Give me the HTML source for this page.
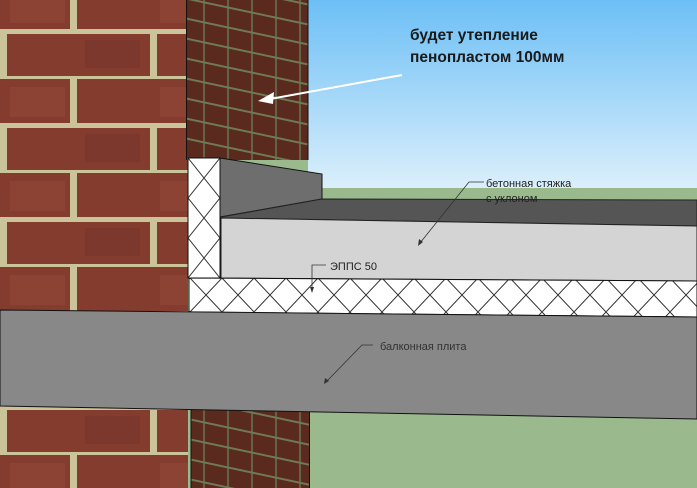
<!DOCTYPE html>
<html><head><meta charset="utf-8"><style>
html,body{margin:0;padding:0;width:697px;height:488px;overflow:hidden}
svg{display:block}
text{font-family:"Liberation Sans",sans-serif}
</style></head><body>
<svg width="697" height="488" viewBox="0 0 697 488" xmlns="http://www.w3.org/2000/svg">
<defs>
<linearGradient id="sky" x1="0" y1="0" x2="0" y2="1">
<stop offset="0" stop-color="#6cbff6"/><stop offset="1" stop-color="#dbeffb"/>
</linearGradient>
<pattern id="brick" width="150" height="94" patternUnits="userSpaceOnUse" y="-15">
<rect width="150" height="94" fill="#843c2e"/>
<rect width="150" height="5" y="44" fill="#cbc49a"/>
<rect width="150" height="5" y="91" fill="#cbc49a"/>
<rect x="70" y="0" width="7" height="46" fill="#cbc49a"/>
<rect x="0" y="47" width="7" height="47" fill="#cbc49a"/>
<rect x="10" y="8" width="55" height="30" fill="#96493a" opacity=".5"/>
<rect x="85" y="55" width="55" height="28" fill="#74332a" opacity=".5"/>
</pattern>
<pattern id="sbrick" width="24" height="20" patternUnits="userSpaceOnUse" patternTransform="skewY(12)">
<rect width="24" height="20" fill="#5a2a1e"/>
<rect width="24" height="2" y="18" fill="#6f7a55"/>
<rect x="11" width="2" height="20" fill="#6f7a55" opacity=".7"/>
</pattern>
<pattern id="xx" width="32" height="34" patternUnits="userSpaceOnUse" x="190" y="278">
<rect width="32" height="34" fill="#fff"/>
<path d="M0 0L32 34M32 0L0 34" stroke="#333" stroke-width="1"/>
</pattern>
<pattern id="xv" width="32" height="40" patternUnits="userSpaceOnUse" x="188" y="158">
<rect width="32" height="40" fill="#fff"/>
<path d="M0 0L32 40M32 0L0 40" stroke="#333" stroke-width="1"/>
</pattern>
</defs>
<rect width="697" height="488" fill="#9aba8e"/>
<rect x="308" y="0" width="389" height="188" fill="url(#sky)"/>
<rect x="0" y="0" width="188" height="488" fill="url(#brick)"/>
<rect x="186" y="0" width="122" height="160" fill="url(#sbrick)"/>
<line x1="186.5" y1="0" x2="186.5" y2="160" stroke="#111"/>
<line x1="308" y1="0" x2="308" y2="160" stroke="#111"/>
<rect x="191" y="410" width="118" height="78" fill="url(#sbrick)"/>
<line x1="191" y1="410" x2="191" y2="488" stroke="#111"/>
<line x1="309.5" y1="410" x2="309.5" y2="488" stroke="#111"/>
<rect x="188" y="158" width="32" height="120" fill="url(#xv)" stroke="#111"/>
<polygon points="220,158 322,174 322,199 220,217" fill="#6e6e6e" stroke="#111"/>
<polygon points="221,217 322,199 697,200 697,226 221,218" fill="#555" stroke="#222"/>
<polygon points="221,218 697,226 697,281 221,278" fill="#d4d4d4" stroke="#222"/>
<polygon points="189,278 697,281 697,317 189,312" fill="url(#xx)" stroke="#111"/>
<polygon points="0,310 697,317 697,419 0,406" fill="#888" stroke="#111"/>
<text x="410" y="40" font-size="15.5" font-weight="bold" fill="#1a1a1a">будет утепление</text>
<text x="410" y="62" font-size="15.5" font-weight="bold" fill="#1a1a1a">пенопластом 100мм</text>
<line x1="402" y1="75" x2="270" y2="99" stroke="#fff" stroke-width="2"/>
<polygon points="258,101 274,92 273,104" fill="#fff"/>
<text x="486" y="187" font-size="11" fill="#222">бетонная стяжка</text>
<text x="486" y="202" font-size="11" fill="#222">с уклоном</text>
<polyline points="484,182 469,182 420,243" fill="none" stroke="#333" stroke-width=".8"/>
<polygon points="418,246 419,239 423,242" fill="#333"/>
<text x="330" y="270" font-size="11" fill="#222">ЭППС 50</text>
<polyline points="326,265 312,265 312,290" fill="none" stroke="#333" stroke-width=".8"/>
<polygon points="312,293 310,287 314,287" fill="#333"/>
<text x="380" y="350" font-size="11" fill="#333">балконная плита</text>
<polyline points="373,345 362,345 326,382" fill="none" stroke="#333" stroke-width=".8"/>
<polygon points="324,384 325,378 329,381" fill="#333"/>
</svg>
</body></html>
